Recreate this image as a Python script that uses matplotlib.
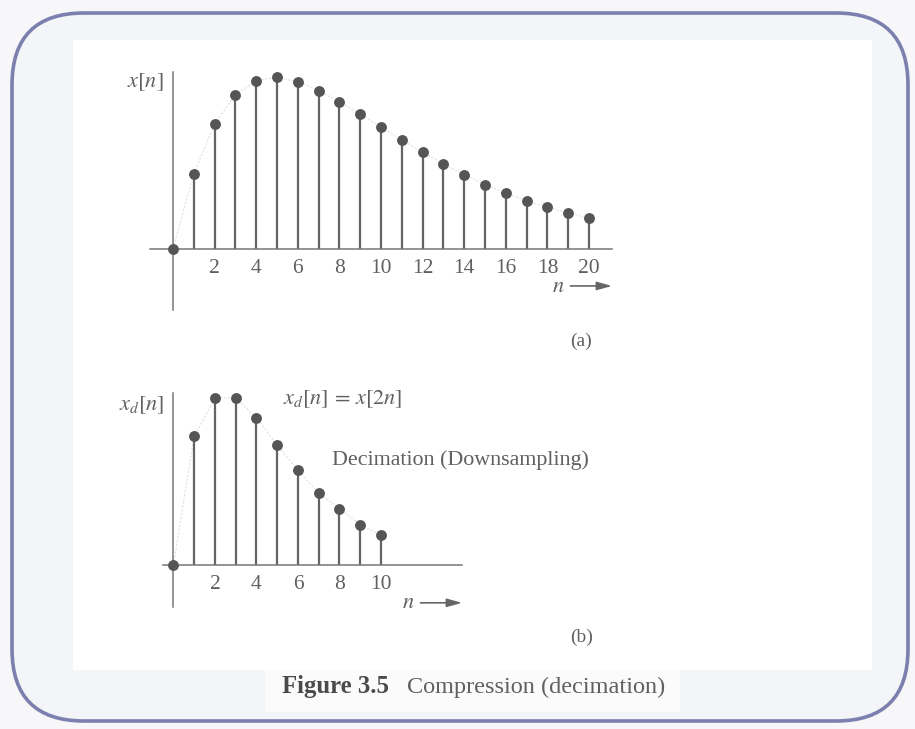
import matplotlib
matplotlib.use('Agg')
import matplotlib.pyplot as plt
from matplotlib.patches import FancyBboxPatch, Rectangle

plt.rcParams['font.family'] = ['Liberation Serif', 'DejaVu Serif']
plt.rcParams['mathtext.fontset'] = 'stix'

# sample values (arbitrary units, peak = 1)
n_a = list(range(0, 21))
x_a = [0, 0.435, 0.728, 0.897, 0.979, 1.0, 0.973, 0.922, 0.856, 0.786, 0.709,
       0.635, 0.563, 0.495, 0.433, 0.375, 0.326, 0.280, 0.243, 0.210, 0.179]
ticks_a = [2, 4, 6, 8, 10, 12, 14, 16, 18, 20]

n_b = list(range(0, 11))
x_b = [0, 0.771, 1.0, 1.0, 0.883, 0.718, 0.567, 0.433, 0.338, 0.243, 0.179]
ticks_b = [2, 4, 6, 8, 10]

W, H = 915, 729
TXT = '#606060'
STEM = '#646464'
DOT = '#555555'


def px_axes(fig, left, top, right, bottom):
    return fig.add_axes([left / W, 1 - bottom / H, (right - left) / W, (bottom - top) / H])


def fx(x):
    return x / W


def fy(y):
    return 1 - y / H


def stem_panel(ax, n, x, ticks, xlim, ylim):
    ax.set_xlim(*xlim)
    ax.set_ylim(*ylim)
    ax.patch.set_alpha(0)
    # faint envelope joining the samples
    ax.plot(n, x, color='#e0e0e0', lw=0.8, ls=(0, (2, 1.5)), zorder=1)
    ax.vlines(n, 0, x, color=STEM, lw=1.6, zorder=2)
    ax.plot(n, x, 'o', ms=6.8, color=DOT, zorder=3)
    for s in ['top', 'right']:
        ax.spines[s].set_visible(False)
    for s in ['left', 'bottom']:
        ax.spines[s].set_position(('data', 0))
        ax.spines[s].set_color('#777777')
        ax.spines[s].set_linewidth(1.1)
    ax.set_yticks([])
    ax.set_xticks(ticks)
    ax.tick_params(axis='x', length=0, pad=7, labelsize=15.5, labelcolor=TXT)


def n_arrow(ax, x0, x1, y):
    ax.annotate('', xy=(x1, y), xytext=(x0, y),
                arrowprops=dict(arrowstyle='-|>,head_length=0.9,head_width=0.25',
                                color='#666666', lw=1.2, shrinkA=0, shrinkB=0),
                annotation_clip=False)


fig = plt.figure(figsize=(W / 100, H / 100), dpi=100)
fig.patch.set_facecolor('#f7f7fa')

bg = fig.add_axes([0, 0, 1, 1])
bg.set_xlim(0, W)
bg.set_ylim(H, 0)
bg.axis('off')
bg.add_patch(FancyBboxPatch((12, 13), 896, 708, boxstyle='round,pad=0,rounding_size=72',
                            fc='#f4f5f9', ec='#7c80ae', lw=2.6))
bg.add_patch(Rectangle((73, 40), 799, 630, fc='white', ec='none'))
bg.add_patch(Rectangle((265, 670), 415, 42, fc='#fbfbfc', ec='none'))

# (a) original sequence
ax1 = px_axes(fig, 150, 72, 612, 310)
stem_panel(ax1, n_a, x_a, ticks_a, (-1.1, 21.1), (-0.355, 1.03))
n_arrow(ax1, 19.1, 21.1, -0.215)
fig.text(fx(558), fy(287), r'$n$', fontsize=16, color=TXT, ha='center', va='center')
fig.text(fx(164), fy(82), r'$x[n]$', fontsize=16, color=TXT, ha='right', va='center')
fig.text(fx(581), fy(341), '(a)', fontsize=14, color=TXT, ha='center', va='center')

# (b) decimated sequence
ax2 = px_axes(fig, 163, 393, 462, 607)
stem_panel(ax2, n_b, x_b, ticks_b, (-0.5, 13.9), (-0.25, 1.03))
n_arrow(ax2, 11.9, 13.9, -0.225)
fig.text(fx(408), fy(603), r'$n$', fontsize=16, color=TXT, ha='center', va='center')
fig.text(fx(164), fy(405), r'$x_d[n]$', fontsize=16, color=TXT, ha='right', va='center')
fig.text(fx(283), fy(399), r'$x_d[n]\,=\,x[2n]$', fontsize=16, color=TXT, ha='left', va='center')
fig.text(fx(332), fy(460), 'Decimation (Downsampling)', fontsize=15.8, color=TXT,
         ha='left', va='center')
fig.text(fx(582), fy(637), '(b)', fontsize=14, color=TXT, ha='center', va='center')

# caption
fig.text(fx(282), fy(687), 'Figure 3.5', fontsize=17.8, fontweight='bold', color='#4a4a4a',
         ha='left', va='center')
fig.text(fx(407), fy(687), 'Compression (decimation)', fontsize=17.5, color=TXT,
         ha='left', va='center')

fig.savefig('out.png', dpi=100, facecolor=fig.get_facecolor())
